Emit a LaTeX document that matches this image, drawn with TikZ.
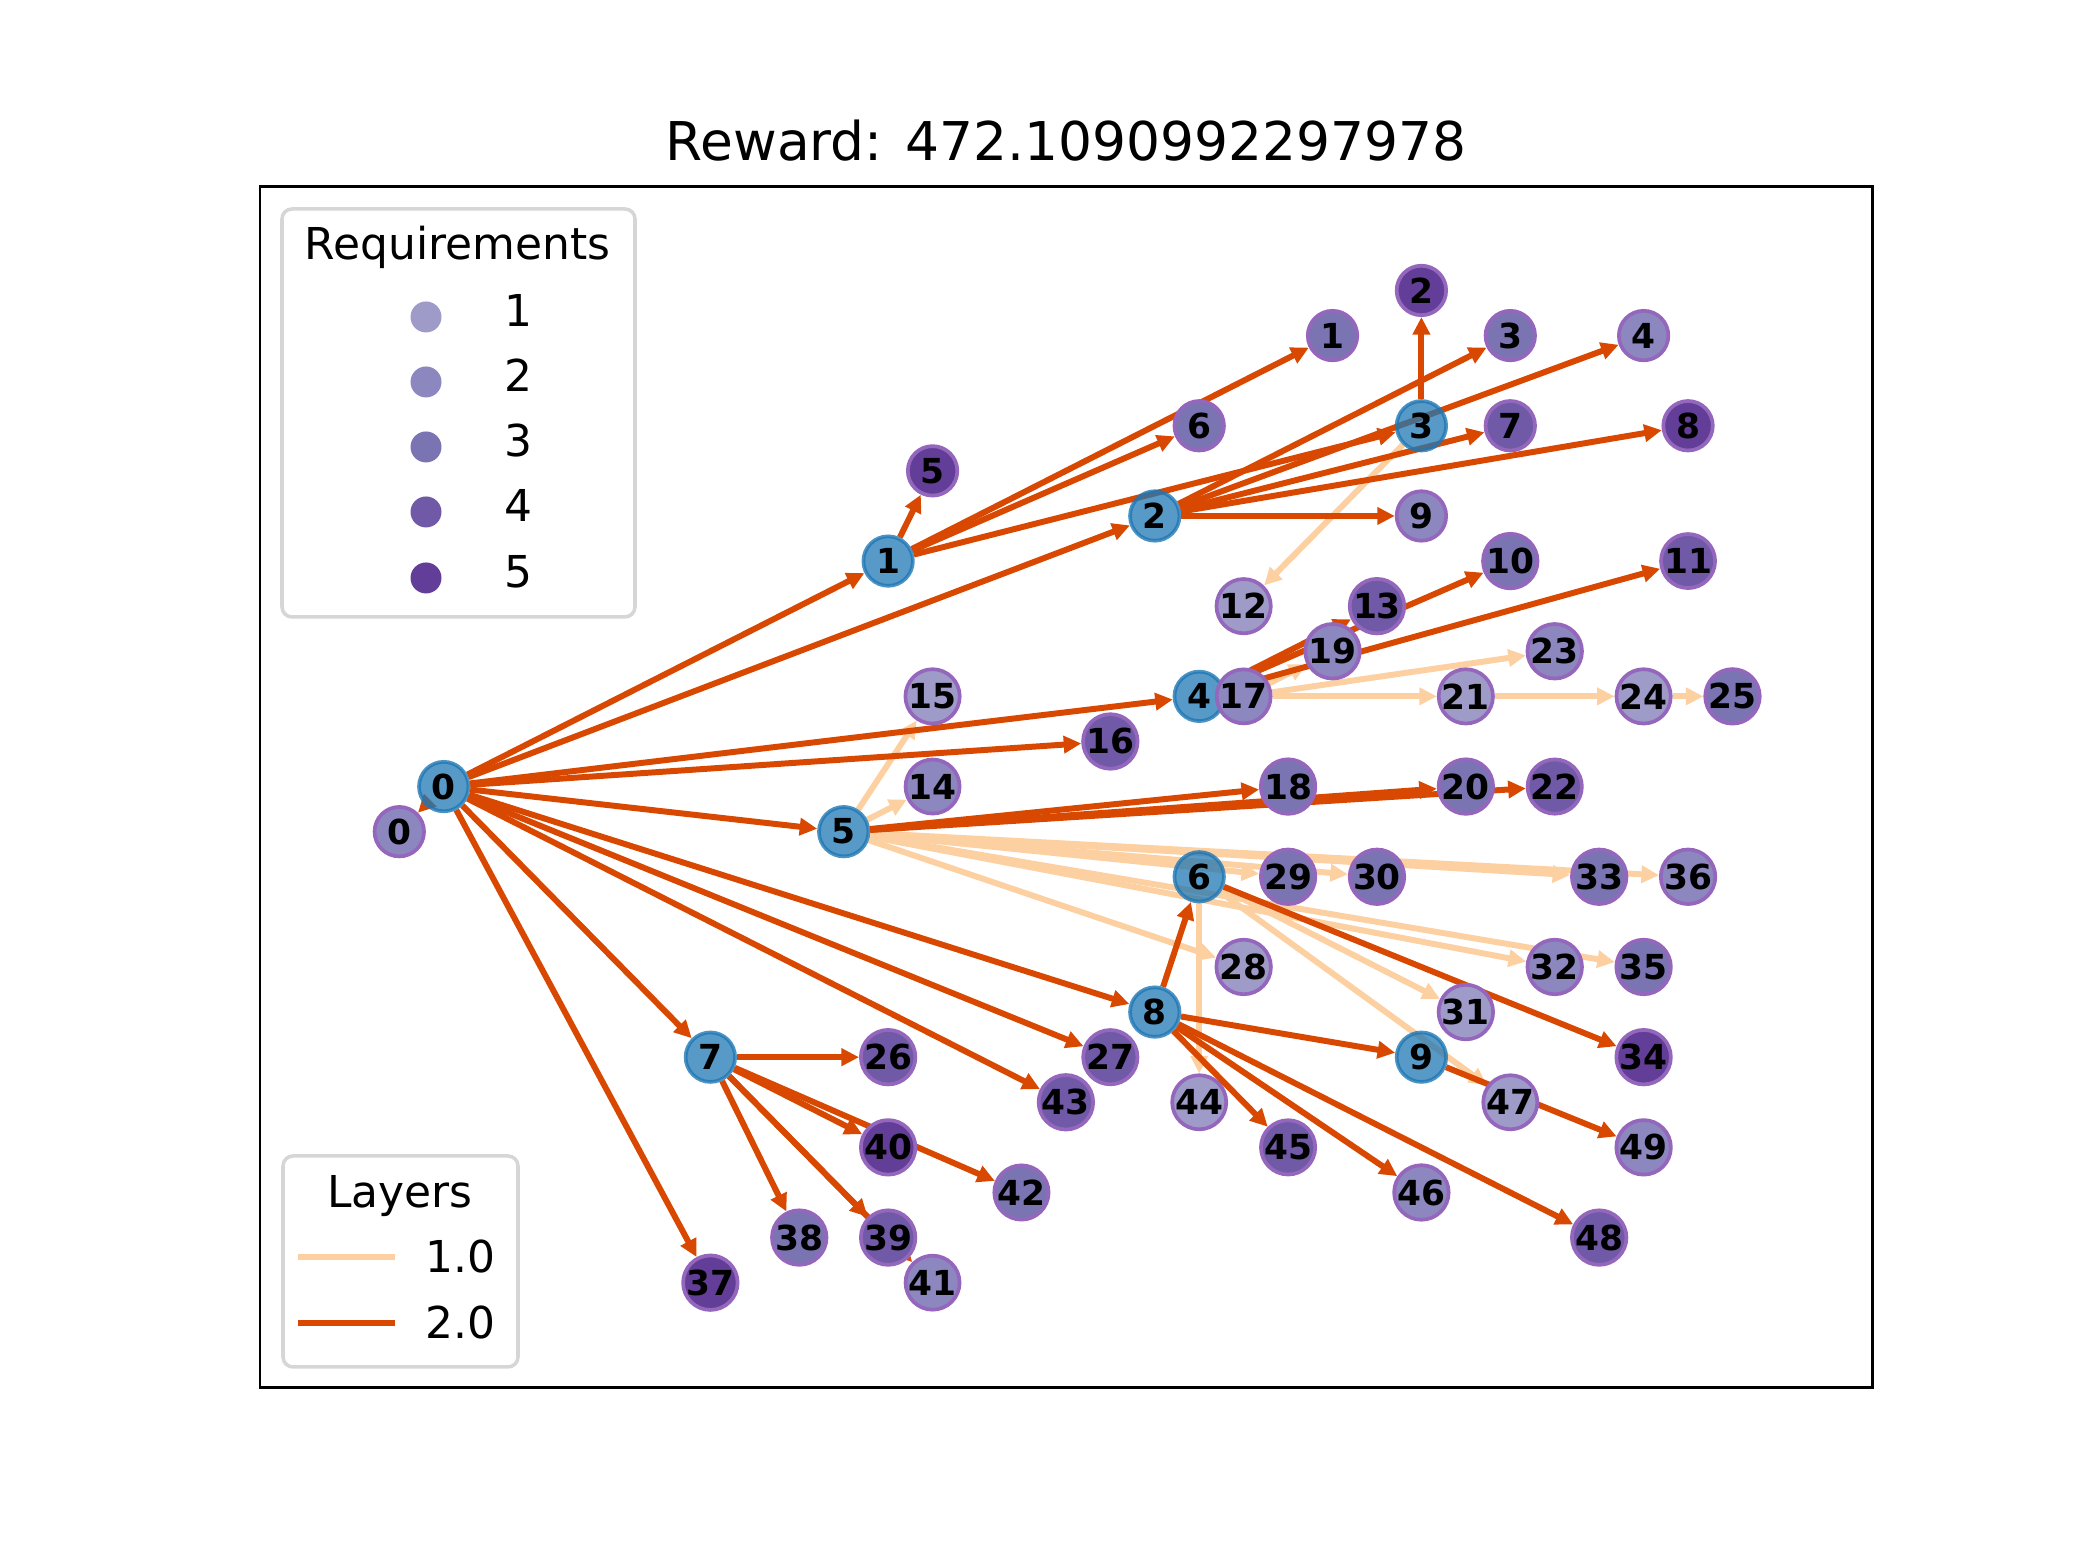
\documentclass[tikz,border=0pt]{standalone}
\usepackage{fontspec}
\setmainfont{DejaVu Sans}
\usetikzlibrary{arrows.meta}
\pgfdeclarelayer{bg}
\pgfsetlayers{bg,main}
\definecolor{tabblue}{RGB}{31,119,180}
\definecolor{tabpurple}{RGB}{148,103,189}
\definecolor{rqa}{HTML}{9F9BC8}
\definecolor{rqb}{HTML}{8C87BE}
\definecolor{rqc}{HTML}{7B74B2}
\definecolor{rqd}{HTML}{705AA7}
\definecolor{rqe}{HTML}{633E98}
\definecolor{lyrone}{RGB}{253,208,162}
\definecolor{lyrtwo}{RGB}{217,72,1}
\definecolor{legframe}{RGB}{214,214,214}
\newcommand{\nlbl}{\fontsize{9.8}{11}\selectfont\bfseries}
\newcommand{\legfont}{\fontsize{12.5}{15}\selectfont}
\newcommand{\ttlfont}{\fontsize{15.2}{18}\selectfont}
\tikzset{
  snode/.style={circle,draw=tabblue,draw opacity=0.8,fill=tabblue,fill opacity=0.75,text opacity=1,
    line width=1.05pt,minimum size=4.95mm,inner sep=0pt,font=\nlbl},
  vnode/.style={circle,draw=tabpurple,line width=1.05pt,minimum size=4.95mm,inner sep=0pt,font=\nlbl},
  rq1/.style={vnode,fill=rqa},
  rq2/.style={vnode,fill=rqb},
  rq3/.style={vnode,fill=rqc},
  rq4/.style={vnode,fill=rqd},
  rq5/.style={vnode,fill=rqe},
  layone/.style={-{Triangle[length=5pt,width=4.8pt]},line width=1.7pt,lyrone},
  laytwo/.style={-{Triangle[length=5pt,width=4.8pt]},line width=1.7pt,lyrtwo},
  legbox/.style={draw=legframe,line width=1pt,rounded corners=1mm,fill=white,inner sep=0pt},
  legtxt/.style={font=\legfont,inner sep=0pt},
  legdot/.style={circle,minimum size=3.1mm,inner sep=0pt},
}

\begin{document}
\begin{tikzpicture}
\useasboundingbox (0,0) rectangle (20.8,15.6);
% axes frame + title
\draw[line width=0.85pt] (2.60,1.72) rectangle (18.72,13.73);
\node[anchor=base,font=\ttlfont,inner sep=0pt] (ttl) at (10.66,13.995) {Reward: 472.1090992297978};

\begin{scope}[shift={(3.993,12.695)},x=0.4444cm,y=-0.451cm]
% substrate nodes
\node[snode] (b0) at (1,11) {0};
\node[snode] (b1) at (11,6) {1};
\node[snode] (b2) at (17,5) {2};
\node[snode] (b3) at (23,3) {3};
\node[snode] (b4) at (18,9) {4};
\node[snode] (b5) at (10,12) {5};
\node[snode] (b6) at (18,13) {6};
\node[snode] (b7) at (7,17) {7};
\node[snode] (b8) at (17,16) {8};
\node[snode] (b9) at (23,17) {9};
% virtual nodes, filled by requirement
\node[rq2] (v0) at (0,12) {0};
\node[rq3] (v1) at (21,1) {1};
\node[rq5] (v2) at (23,0) {2};
\node[rq3] (v3) at (25,1) {3};
\node[rq2] (v4) at (28,1) {4};
\node[rq5] (v5) at (12,4) {5};
\node[rq3] (v6) at (18,3) {6};
\node[rq4] (v7) at (25,3) {7};
\node[rq5] (v8) at (29,3) {8};
\node[rq2] (v9) at (23,5) {9};
\node[rq3] (v10) at (25,6) {10};
\node[rq4] (v11) at (29,6) {11};
\node[rq1] (v12) at (19,7) {12};
\node[rq4] (v13) at (22,7) {13};
\node[rq2] (v14) at (12,11) {14};
\node[rq1] (v15) at (12,9) {15};
\node[rq4] (v16) at (16,10) {16};
\node[rq2] (v17) at (19,9) {17};
\node[rq3] (v18) at (20,11) {18};
\node[rq2] (v19) at (21,8) {19};
\node[rq3] (v20) at (24,11) {20};
\node[rq1] (v21) at (24,9) {21};
\node[rq4] (v22) at (26,11) {22};
\node[rq2] (v23) at (26,8) {23};
\node[rq1] (v24) at (28,9) {24};
\node[rq3] (v25) at (30,9) {25};
\node[rq4] (v26) at (11,17) {26};
\node[rq4] (v27) at (16,17) {27};
\node[rq1] (v28) at (19,15) {28};
\node[rq3] (v29) at (20,13) {29};
\node[rq3] (v30) at (22,13) {30};
\node[rq1] (v31) at (24,16) {31};
\node[rq2] (v32) at (26,15) {32};
\node[rq3] (v33) at (27,13) {33};
\node[rq5] (v34) at (28,17) {34};
\node[rq3] (v35) at (28,15) {35};
\node[rq2] (v36) at (29,13) {36};
\node[rq5] (v37) at (7,22) {37};
\node[rq3] (v38) at (9,21) {38};
\node[rq4] (v39) at (11,21) {39};
\node[rq5] (v40) at (11,19) {40};
\node[rq2] (v41) at (12,22) {41};
\node[rq3] (v42) at (14,20) {42};
\node[rq4] (v43) at (15,18) {43};
\node[rq1] (v44) at (18,18) {44};
\node[rq4] (v45) at (20,19) {45};
\node[rq2] (v46) at (23,20) {46};
\node[rq1] (v47) at (25,18) {47};
\node[rq4] (v48) at (27,21) {48};
\node[rq2] (v49) at (28,19) {49};
\end{scope}

% links, under the nodes
\begin{pgfonlayer}{bg}
% layer 1.0
\path[layone] (b3) edge (v12);
\path[layone] (v17) edge (v19) edge (v23) edge (v21);
\path[layone] (v21) edge (v24);
\path[layone] (v24) edge (v25);
\path[layone] (b5) edge (v15) edge (v14) edge (v33) edge (v36) edge (v29) edge (v30)
  edge (v32) edge (v35) edge (v28);
\path[layone] (b6) edge (v31) edge (v47) edge (v44);
% layer 2.0
\path[laytwo] (b0) edge (v0) edge (b1) edge (b2) edge (b4) edge (v16) edge (b5)
  edge (b8) edge (v27) edge (v43) edge (b7) edge (v37);
\path[laytwo] (b1) edge (v5) edge (v1) edge (v6) edge (b3);
\path[laytwo] (b2) edge (v3) edge (v4) edge (v7) edge (v8) edge (v9);
\path[laytwo] (b3) edge (v2);
\path[laytwo] (b4) edge (v13) edge (v10) edge (v11);
\path[laytwo] (b5) edge (v18) edge (v20) edge (v22);
\path[laytwo] (b6) edge (v34);
\path[laytwo] (b7) edge (v26) edge (v40) edge (v42) edge (v38) edge (v39) edge (v41);
\path[laytwo] (b8) edge (b6) edge (b9) edge (v45) edge (v46) edge (v48);
\path[laytwo] (b9) edge (v49);
\end{pgfonlayer}

% legend: requirements
\node[legbox,minimum width=3.53cm,minimum height=4.08cm] (reqbox) at (4.585,11.47) {};
\node[legtxt,anchor=base] (reqttl) at (4.575,13.0) {Requirements};
\node[legdot,fill=rqa] (m1) at (4.26,12.43) {};
\node[legdot,fill=rqb] (m2) at (4.26,11.78) {};
\node[legdot,fill=rqc] (m3) at (4.26,11.13) {};
\node[legdot,fill=rqd] (m4) at (4.26,10.48) {};
\node[legdot,fill=rqe] (m5) at (4.26,9.82) {};
\node[legtxt,anchor=base west] (l1) at (5.04,12.33) {1};
\node[legtxt,anchor=base west] (l2) at (5.04,11.68) {2};
\node[legtxt,anchor=base west] (l3) at (5.04,11.03) {3};
\node[legtxt,anchor=base west] (l4) at (5.04,10.38) {4};
\node[legtxt,anchor=base west] (l5) at (5.04,9.72) {5};
% legend: layers
\node[legbox,minimum width=2.35cm,minimum height=2.11cm] (laybox) at (4.005,2.985) {};
\node[legtxt,anchor=base] (layttl) at (4.0,3.52) {Layers};
\draw[lyrone,line width=1.7pt] (2.98,3.03) -- (3.95,3.03);
\draw[lyrtwo,line width=1.7pt] (2.98,2.37) -- (3.95,2.37);
\node[legtxt,anchor=base west] (k1) at (4.25,2.87) {1.0};
\node[legtxt,anchor=base west] (k2) at (4.25,2.21) {2.0};
\end{tikzpicture}
\end{document}
